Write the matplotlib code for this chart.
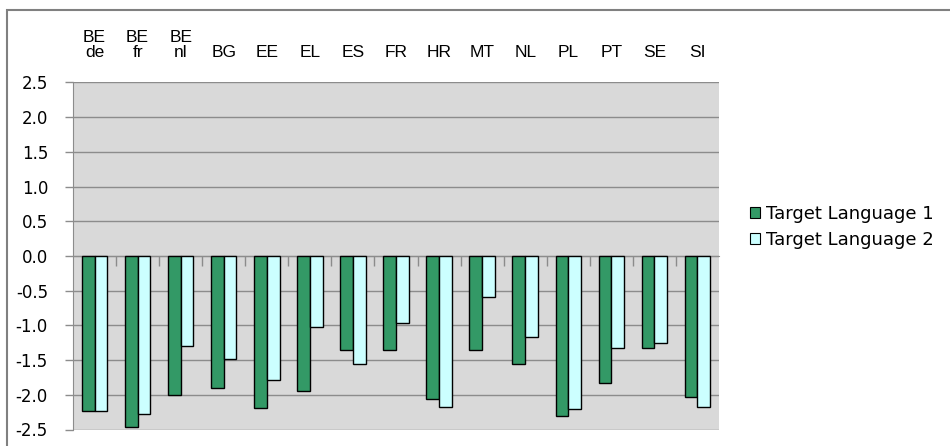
import matplotlib
matplotlib.use("Agg")
import matplotlib.pyplot as plt
from matplotlib.patches import Rectangle, Patch
import numpy as np

categories = ["BE\nde", "BE\nfr", "BE\nnl", "BG", "EE", "EL", "ES", "FR",
              "HR", "MT", "NL", "PL", "PT", "SE", "SI"]
target_language_1 = [-2.23, -2.46, -2.01, -1.90, -2.19, -1.95, -1.35, -1.36,
                     -2.06, -1.36, -1.55, -2.31, -1.83, -1.32, -2.03]
target_language_2 = [-2.23, -2.27, -1.30, -1.48, -1.79, -1.02, -1.56, -0.96,
                     -2.17, -0.59, -1.17, -2.20, -1.32, -1.25, -2.18]
series_names = ["Target Language 1", "Target Language 2"]
yticks = [2.5, 2.0, 1.5, 1.0, 0.5, 0.0, -0.5, -1.0, -1.5, -2.0, -2.5]

plt.rcParams['font.family'] = ['Liberation Sans', 'DejaVu Sans']
W, H = 950, 446
fig = plt.figure(figsize=(W / 100, H / 100), dpi=100)
fig.patch.set_facecolor('white')

# outer chart border
fig.patches.append(Rectangle((7 / W, -0.2), 1.2, 1.2 - 10 / H,
                             transform=fig.transFigure, fill=False,
                             edgecolor='#808080', linewidth=1.5))

left, right, top, bottom = 73, 719, 82.5, 429.5
ax = fig.add_axes([left / W, 1 - bottom / H, (right - left) / W, (bottom - top) / H])
ax.set_facecolor('#D9D9D9')

n = len(categories)
x = np.arange(n)
bw = 0.295
c1, c2 = '#339966', '#CCFFFF'
ax.bar(x - bw / 2, target_language_1, bw, color=c1, edgecolor='black', linewidth=1.0, zorder=3)
ax.bar(x + bw / 2, target_language_2, bw, color=c2, edgecolor='black', linewidth=1.0, zorder=3)

ax.set_xlim(-0.5, n - 0.5)
ax.set_ylim(min(yticks), max(yticks))
ax.set_yticks(yticks)
ax.set_yticklabels([f"{v:.1f}" for v in yticks], fontsize=12, family='DejaVu Sans')
ax.yaxis.grid(True, color='#8C8C8C', linewidth=1.0, zorder=1)
ax.set_axisbelow(True)
ax.tick_params(axis='y', length=6, width=1, color='#8C8C8C', pad=12)

# category axis at zero with ticks at boundaries
ax.spines['bottom'].set_position(('data', 0))
ax.spines['bottom'].set_color('#8C8C8C')
ax.spines['bottom'].set_zorder(2)
ax.set_xticks(np.arange(n - 1) + 0.5)
ax.set_xticklabels([])
ax.tick_params(axis='x', length=7, width=1, color='#8C8C8C', direction='out')
for s in ['top', 'right']:
    ax.spines[s].set_visible(False)
ax.spines['left'].set_color('#8C8C8C')

sec = ax.secondary_xaxis('top')
sec.set_xticks(x)
sec.set_xticklabels(categories, fontsize=12.5, multialignment='center', linespacing=1.05)
sec.tick_params(length=0, pad=16)
sec.spines['top'].set_visible(False)

handles = [Patch(facecolor=c1, edgecolor='black', linewidth=0.8),
           Patch(facecolor=c2, edgecolor='black', linewidth=0.8)]
fig.legend(handles, series_names, loc='center left',
           bbox_to_anchor=(750 / W, 1 - 227 / H), frameon=False,
           prop={'family': 'DejaVu Sans', 'size': 13},
           handlelength=0.55, handleheight=0.55, handletextpad=0.35, labelspacing=0.45,
           borderpad=0, borderaxespad=0)

fig.savefig("out.png", dpi=100)
